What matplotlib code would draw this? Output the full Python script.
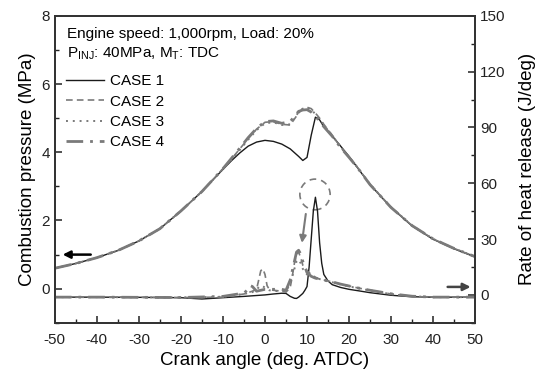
import numpy as np
import matplotlib
matplotlib.use("Agg")
import matplotlib.pyplot as plt
from matplotlib.patches import Ellipse

plt.rcParams['font.family'] = ['Liberation Sans', 'DejaVu Sans']
plt.rcParams['mathtext.fontset'] = 'custom'
plt.rcParams['mathtext.rm'] = 'Liberation Sans'
plt.rcParams['axes.unicode_minus'] = False

# ---------------- data ---------------- #

theta_p = [-50, -45, -40, -35, -30, -25, -20, -15, -10, -8, -6, -4, -2, 0, 2, 4, 6,
           8, 9, 10, 11, 12, 13, 14, 16, 18, 20, 22, 25, 30, 35, 40, 45, 50]

p_case1 = [0.60, 0.74, 0.91, 1.12, 1.40, 1.76, 2.28, 2.85, 3.50, 3.75, 3.98, 4.18, 4.30, 4.35, 4.32, 4.24, 4.10,
           3.88, 3.76, 3.85, 4.50, 5.03, 4.95, 4.75, 4.48, 4.18, 3.88, 3.55, 3.05, 2.38, 1.84, 1.45, 1.17, 0.93]
p_case2 = [0.60, 0.74, 0.91, 1.12, 1.40, 1.76, 2.28, 2.85, 3.52, 3.80, 4.10, 4.40, 4.68, 4.88, 4.90, 4.82, 4.80,
           5.15, 5.28, 5.32, 5.28, 5.15, 5.00, 4.82, 4.50, 4.15, 3.86, 3.56, 3.06, 2.39, 1.85, 1.46, 1.18, 0.94]
p_case3 = [0.60, 0.74, 0.91, 1.12, 1.40, 1.76, 2.28, 2.85, 3.51, 3.78, 4.07, 4.37, 4.65, 4.85, 4.88, 4.80, 4.82,
           5.18, 5.28, 5.30, 5.25, 5.12, 4.97, 4.80, 4.49, 4.15, 3.86, 3.56, 3.06, 2.39, 1.85, 1.46, 1.18, 0.94]
p_case4 = [0.60, 0.74, 0.91, 1.12, 1.40, 1.76, 2.28, 2.85, 3.52, 3.82, 4.12, 4.43, 4.70, 4.90, 4.92, 4.85, 4.90,
           5.20, 5.24, 5.25, 5.18, 5.05, 4.92, 4.75, 4.47, 4.14, 3.85, 3.55, 3.05, 2.38, 1.85, 1.46, 1.18, 0.94]

theta_h1 = [-50, -40, -30, -20, -15, -10, -5, 0, 2, 4, 5, 6, 7, 7.5, 8, 9, 9.5, 10, 10.5, 11, 11.5,
            12, 12.5, 13, 13.5, 14, 15, 16, 18, 20, 22, 25, 30, 35, 40, 45, 50]
hrr_case1 = [-1.2, -1.2, -1.3, -1.5, -2.2, -1.5, -0.8, 0.0, 0.5, 0.9, 0.8, -0.8, -1.8, -1.9, -1.2, 0.8, 2.5,
             4.5, 15, 30, 45, 52.5, 45, 28, 17, 11, 7.5, 5.5, 4.0, 3.0, 2.3, 1.2, -0.2, -1.0, -1.2, -1.2, -1.2]

theta_h2 = [-50, -40, -30, -20, -10, -8, -5, -3, -2, -1.5, -1, -0.5, 0, 0.5, 1, 2, 4, 5, 6, 6.5, 7,
            7.5, 8, 8.5, 9, 10, 11, 12, 13, 14, 16, 18, 20, 22, 25, 30, 35, 40, 45, 50]
hrr_case2 = [-1.2, -1.2, -1.3, -1.4, -1.2, -0.5, 0.5, 2.0, 3.0, 8.0, 13, 14, 11, 5.0, 3.0, 2.5, 2.0, 1.5, 4.0, 10, 17,
             22, 23, 20, 16, 13, 11, 9.5, 8.5, 8.0, 7.0, 5.8, 4.8, 3.8, 2.5, 0.5, -0.8, -1.2, -1.2, -1.2]

theta_h3 = [-50, -40, -30, -20, -10, -5, -3, -2, -1, 0, 1, 3, 5, 6, 7, 7.5, 8, 8.5, 9, 10,
            12, 14, 16, 18, 20, 22, 25, 30, 35, 40, 45, 50]
hrr_case3 = [-1.2, -1.2, -1.3, -1.4, -1.0, 0.5, 1.5, 3.0, 5.0, 4.0, 2.5, 2.0, 2.0, 6.0, 14, 18, 19, 17, 14, 11,
             9.0, 8.0, 6.8, 5.6, 4.6, 3.6, 2.4, 0.4, -0.8, -1.2, -1.2, -1.2]

theta_h4 = [-50, -40, -30, -20, -10, -5, -4, -3.5, -3, -2, -1, 0, 2, 4, 5, 6, 7, 7.5, 8, 8.5, 9, 10,
            11, 12, 14, 16, 18, 20, 22, 25, 30, 35, 40, 45, 50]
hrr_case4 = [-1.2, -1.2, -1.3, -1.4, -0.8, 1.0, 3.0, 5.0, 4.5, 2.0, 2.5, 3.0, 3.0, 3.0, 2.5, 8.0, 18, 23, 24, 22, 18, 12,
             10, 9.0, 8.0, 7.0, 5.8, 4.8, 3.8, 2.5, 0.6, -0.7, -1.2, -1.2, -1.2]

labels = ["CASE 1", "CASE 2", "CASE 3", "CASE 4"]

# ---------------- figure ---------------- #

black = "#1a1a1a"
gray = "#7a7a7a"

fig = plt.figure(figsize=(5.43, 3.78), dpi=100)
ax = fig.add_axes([0.101, 0.146, 0.774, 0.812])
ax2 = ax.twinx()

l1, = ax.plot(theta_p, p_case1, color=black, lw=1.0)
l2, = ax.plot(theta_p, p_case2, color=gray, lw=1.2, ls=(0, (4, 2.5)))
l3, = ax.plot(theta_p, p_case3, color=gray, lw=1.4, ls=(0, (1, 2.5)))
l4, = ax.plot(theta_p, p_case4, color=gray, lw=2.0, ls=(0, (6, 2.5, 1, 2.5)))

ax2.plot(theta_h1, hrr_case1, color=black, lw=1.0)
ax2.plot(theta_h2, hrr_case2, color=gray, lw=1.2, ls=(0, (4, 2.5)))
ax2.plot(theta_h3, hrr_case3, color=gray, lw=1.4, ls=(0, (1, 2.5)))
ax2.plot(theta_h4, hrr_case4, color=gray, lw=2.0, ls=(0, (6, 2.5, 1, 2.5)))

# dashed circle around CASE 1 peak and arrow down to the other cases
ax2.add_patch(Ellipse((11.9, 54), 7.2, 16.5, fill=False, ec=gray, lw=1.2, ls=(0, (4, 3))))
ax2.annotate("", xy=(8.7, 26.5), xytext=(9.8, 45),
             arrowprops=dict(arrowstyle="-|>", color=gray, lw=1.5, mutation_scale=10))

# axis arrows
ax.annotate("", xy=(-48.8, 1.0), xytext=(-40.8, 1.0),
            arrowprops=dict(arrowstyle="-|>", color="black", lw=1.8, mutation_scale=11))
ax2.annotate("", xy=(49.6, 4.3), xytext=(42.8, 4.3),
             arrowprops=dict(arrowstyle="-|>", color="#444444", lw=1.8, mutation_scale=11))

ax.set_xlim(-50, 50)
ax.set_ylim(-1, 8)
ax2.set_ylim(-15, 150)
ax.set_xticks(np.arange(-50, 51, 10))
ax.set_xticks(np.arange(-45, 50, 10), minor=True)
ax.set_yticks([0, 2, 4, 6, 8])
ax.set_yticks([-1, 1, 3, 5, 7], minor=True)
ax2.set_yticks([0, 30, 60, 90, 120, 150])
ax2.set_yticks([-15, 15, 45, 75, 105, 135], minor=True)

for a in (ax, ax2):
    a.tick_params(which="both", direction="in", labelsize=11, colors="#222222")
    a.tick_params(which="major", length=5, width=1.1)
    a.tick_params(which="minor", length=3, width=1.0)
    for s in a.spines.values():
        s.set_linewidth(1.3)
        s.set_color("#333333")
ax.tick_params(axis="x", pad=7)

ax.set_xlabel("Crank angle (deg. ATDC)", fontsize=13.5, labelpad=4)
ax.set_ylabel("Combustion pressure (MPa)", fontsize=13.5, labelpad=4)
ax2.set_ylabel("Rate of heat release (J/deg)", fontsize=13.5, labelpad=10)

ax.text(0.028, 0.942, "Engine speed: 1,000rpm, Load: 20%", transform=ax.transAxes,
        fontsize=11, va="center", ha="left")
ax.text(0.028, 0.877, r"P$_\mathregular{INJ}$: 40MPa, M$_\mathregular{T}$: TDC", transform=ax.transAxes,
        fontsize=11, va="center", ha="left")

ax2.legend([l1, l2, l3, l4], labels, loc="upper left", bbox_to_anchor=(0.005, 0.84),
           frameon=False, fontsize=11, handlelength=2.5, handletextpad=0.35,
           labelspacing=0.42, borderaxespad=0.2)

fig.savefig("out.png", dpi=100)
